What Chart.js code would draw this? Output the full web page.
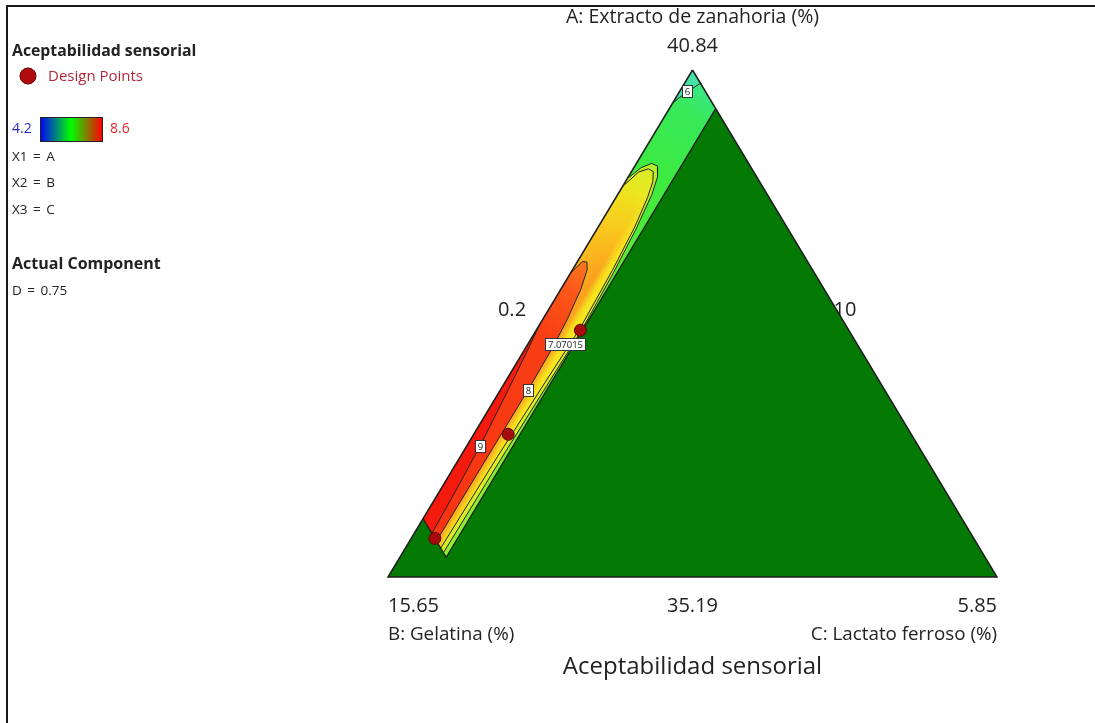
<!DOCTYPE html>
<html>
<head>
<meta charset="utf-8">
<script src="https://cdn.jsdelivr.net/npm/chart.js@4/dist/chart.umd.min.js"></script>
<style>
html,body{margin:0;padding:0;background:#fff;}
#wrap{position:relative;width:1095px;height:723px;}
canvas{display:block;}
</style>
</head>
<body>
<div id="wrap"><canvas id="c" width="1095" height="723"></canvas></div>
<script>
// ---------------- DATA (actual component %, D fixed = 0.75) ----------------
const componentNames = ['A: Extracto de zanahoria (%)', 'B: Gelatina (%)', 'C: Lactato ferroso (%)'];
const componentHigh = [40.84, 15.65, 5.85];   // value at each vertex
const componentLow  = [35.19, 10, 0.2];       // value on opposite edge
const responseTitle = 'Aceptabilidad sensorial';
const colorRange = [4.2, 8.6];
const fixedComponent = 'D = 0.75';
const codedNames = ['X1 = A', 'X2 = B', 'X3 = C'];

// feasible (constrained) region corners as [B, C]
const regionB = [10, 10, 15.0, 15.0];
const regionC = [0.2, 0.63, 0.63, 0.2];

// contour lines as [B, C] pairs
const contour6 = [[10.37,0.20],[10.27,0.234],[10.17,0.273],[10.08,0.313],[10.00,0.347]];
const contour7 = [[11.21,0.20],[11.02,0.268],[10.90,0.341],[10.86,0.409],[10.92,0.471],[11.07,0.516],[11.41,0.562],[11.86,0.596],[12.49,0.621],[13.11,0.607],[13.96,0.590],[15.0,0.579]];
const contour707 = [[11.30,0.20],[11.07,0.268],[10.96,0.341],[10.93,0.403],[10.99,0.454],[11.13,0.494],[11.41,0.539],[11.86,0.573],[12.49,0.596],[13.11,0.573],[13.96,0.545],[15.0,0.528]];
const contour8 = [[12.26,0.20],[12.09,0.245],[12.05,0.290],[12.09,0.336],[12.26,0.386],[12.54,0.426],[12.83,0.449],[13.31,0.457],[13.96,0.454],[15.0,0.449]];
const contour9 = [[12.83,0.20],[13.11,0.234],[13.50,0.273],[14.07,0.324],[14.52,0.347],[15.0,0.364]];

// contour labels: text, B, C
const labelText = ['6', '9', '8', '7.07015'];
const labelB = [10.17, 14.07, 13.31, 12.71];
const labelC = [0.268, 0.324, 0.457, 0.539];

// design points
const designB = [12.49, 13.74, 15.0];
const designC = [0.61, 0.52, 0.42];

// ---------------- helpers ----------------
const SPAN = componentHigh[1] - componentLow[1];
function toXY(B, C) {
  const b = (B - componentLow[1]) / SPAN;
  const c = (C - componentLow[2]) / SPAN;
  const a = 1 - b - c;
  return {x: c + a / 2, y: a};
}
const pairsToXY = arr => arr.map(([B, C]) => toXY(B, C));
const vertexA = [componentLow[1], componentLow[2]];
const vertexB = [componentHigh[1], componentLow[2]];
const vertexC = [componentLow[1], componentHigh[2]];
const regionPairs = regionB.map((b, i) => [b, regionC[i]]);
const bottomLeftOfRegion = [regionB[3], regionC[3]];

const FONT = "'Open Sans','Noto Sans',sans-serif";

function px(chart, B, C) {
  const p = toXY(B, C);
  return [chart.scales.x.getPixelForValue(p.x), chart.scales.y.getPixelForValue(p.y)];
}
function poly(ctx, chart, pts) {
  ctx.beginPath();
  pts.forEach(([B, C], i) => {
    const [X, Y] = px(chart, B, C);
    if (i) ctx.lineTo(X, Y); else ctx.moveTo(X, Y);
  });
  ctx.closePath();
}
// gradient along the band (by B)
function alongGrad(ctx, chart, stops) {
  const [x0, y0] = px(chart, regionB[0], regionC[0]);
  const [x1, y1] = px(chart, regionB[2], regionC[0]);
  const g = ctx.createLinearGradient(x0, y0, x1, y1);
  const span = regionB[2] - regionB[0];
  stops.forEach(([B, col]) => g.addColorStop(Math.max(0, Math.min(1, (B - regionB[0]) / span)), col));
  return g;
}
// gradient across the band (by C), perpendicular to the B-C edge
function acrossGrad(ctx, chart, stops) {
  const [x0, y0] = px(chart, 12.5, regionC[0]);
  const [x1, y1] = px(chart, 15.0, regionC[0]);
  const [qx, qy] = px(chart, 12.5, regionC[1]);
  let nx = -(y1 - y0), ny = (x1 - x0);
  const len = Math.hypot(nx, ny); nx /= len; ny /= len;
  const t = (qx - x0) * nx + (qy - y0) * ny;
  const g = ctx.createLinearGradient(x0, y0, x0 + nx * t, y0 + ny * t);
  const span = regionC[1] - regionC[0];
  stops.forEach(([C, col]) => g.addColorStop(Math.max(0, Math.min(1, (C - regionC[0]) / span)), col));
  return g;
}

const fillPlugin = {
  id: 'fills',
  beforeDatasetsDraw(chart) {
    const ctx = chart.ctx;
    ctx.save();
    poly(ctx, chart, [vertexA, vertexB, vertexC]);
    ctx.fillStyle = 'rgb(4,122,4)';
    ctx.fill();
    // feasible band
    poly(ctx, chart, regionPairs);
    ctx.fillStyle = alongGrad(ctx, chart, [[10,'rgb(60,230,150)'],[10.35,'rgb(55,233,90)'],[11.1,'rgb(62,235,62)'],[12.5,'rgb(110,237,50)'],[15,'rgb(145,238,50)']]);
    ctx.fill();
    // tip below 6
    poly(ctx, chart, [vertexA, ...contour6]);
    ctx.fillStyle = 'rgb(70,226,165)';
    ctx.fill();
    // >7
    poly(ctx, chart, [...contour7, bottomLeftOfRegion]);
    ctx.fillStyle = alongGrad(ctx, chart, [[10.9,'rgb(175,238,42)'],[11.6,'rgb(220,238,32)'],[12.5,'rgb(232,236,30)'],[15,'rgb(215,236,40)']]);
    ctx.fill();
    // >7.07
    poly(ctx, chart, [...contour707, bottomLeftOfRegion]);
    ctx.fillStyle = acrossGrad(ctx, chart, [[0.2,'rgb(250,180,30)'],[0.35,'rgb(250,168,30)'],[0.45,'rgb(250,160,30)'],[0.53,'rgb(246,226,30)'],[0.6,'rgb(240,236,35)']]);
    ctx.fill();
    ctx.fillStyle = alongGrad(ctx, chart, [[10.9,'rgba(205,238,40,1)'],[11.25,'rgba(232,236,32,0.95)'],[11.7,'rgba(248,226,30,0.55)'],[12.2,'rgba(250,210,30,0)'],[15,'rgba(250,210,30,0)']]);
    ctx.fill();
    // >8
    poly(ctx, chart, [...contour8, bottomLeftOfRegion]);
    ctx.fillStyle = alongGrad(ctx, chart, [[12.05,'rgb(250,125,30)'],[12.4,'rgb(250,88,25)'],[12.9,'rgb(248,62,20)'],[15,'rgb(248,52,18)']]);
    ctx.fill();
    // >9
    poly(ctx, chart, [...contour9, bottomLeftOfRegion]);
    ctx.fillStyle = 'rgb(244,26,14)';
    ctx.fill();
    ctx.restore();
  },
  afterDatasetDraw(chart, args) {
    if (args.index !== 1) return; // label layer: above contours, below design points
    const ctx = chart.ctx;
    ctx.save();
    ctx.font = '9.5px ' + FONT;
    ctx.textAlign = 'center';
    ctx.textBaseline = 'middle';
    labelText.forEach((t, i) => {
      const [X, Y] = px(chart, labelB[i], labelC[i]);
      const w = Math.round(ctx.measureText(t).width + 5), h = 12;
      const L = Math.round(X - w / 2), T = Math.round(Y - h / 2);
      ctx.fillStyle = '#fff';
      ctx.fillRect(L, T, w, h);
      ctx.strokeStyle = '#333';
      ctx.lineWidth = 1;
      ctx.strokeRect(L + 0.5, T + 0.5, w, h);
      ctx.fillStyle = '#222';
      ctx.fillText(t, L + w / 2 + 0.5, T + h / 2 + 1);
    });
    ctx.restore();
  },
  afterDraw(chart) {
    const ctx = chart.ctx;
    ctx.save();
    // frame
    ctx.strokeStyle = '#1a1a1a';
    ctx.lineWidth = 2;
    ctx.beginPath();
    ctx.moveTo(7, 723); ctx.lineTo(7, 6); ctx.lineTo(1095, 6);
    ctx.stroke();

    ctx.fillStyle = '#222';
    ctx.textBaseline = 'middle';
    const [ax] = px(chart, ...vertexA);
    const [bx] = px(chart, ...vertexB);
    const [cx] = px(chart, ...vertexC);
    ctx.textAlign = 'center';
    ctx.font = '19.5px ' + FONT;
    ctx.fillText(componentNames[0], ax, 17);
    ctx.font = '20px ' + FONT;
    ctx.fillText(String(componentHigh[0]), ax, 46);
    ctx.fillText(String(componentLow[2]), 512, 310);
    ctx.fillText(String(componentLow[1]), 845, 310);
    ctx.fillText(String(componentLow[0]), (bx + cx) / 2, 606);
    ctx.textAlign = 'left';
    ctx.fillText(String(componentHigh[1]), bx, 606);
    ctx.textAlign = 'right';
    ctx.fillText(String(componentHigh[2]), cx, 606);
    ctx.font = '18.8px ' + FONT;
    ctx.textAlign = 'left';
    ctx.fillText(componentNames[1], bx, 635);
    ctx.textAlign = 'right';
    ctx.fillText(componentNames[2], cx, 635);
    ctx.font = '24px ' + FONT;
    ctx.textAlign = 'center';
    ctx.fillText(responseTitle, (bx + cx) / 2, 667);

    // legend
    ctx.textAlign = 'left';
    ctx.font = 'bold 15.8px ' + FONT;
    ctx.fillText(responseTitle, 12, 51);
    ctx.beginPath();
    ctx.arc(28, 76, 8, 0, Math.PI * 2);
    ctx.fillStyle = 'rgb(176,12,12)';
    ctx.fill();
    ctx.strokeStyle = 'rgb(100,0,0)';
    ctx.lineWidth = 1;
    ctx.stroke();
    ctx.font = '15px ' + FONT;
    ctx.fillStyle = 'rgb(178,40,55)';
    ctx.fillText('Design Points', 48, 77);
    const g = ctx.createLinearGradient(40, 0, 102, 0);
    g.addColorStop(0, 'rgb(0,0,255)');
    g.addColorStop(0.5, 'rgb(0,255,0)');
    g.addColorStop(1, 'rgb(255,0,0)');
    ctx.fillStyle = g;
    ctx.fillRect(40, 117, 62, 24);
    ctx.strokeStyle = '#222';
    ctx.strokeRect(40.5, 117.5, 62, 24);
    ctx.font = '14px ' + FONT;
    ctx.fillStyle = 'rgb(40,40,200)';
    ctx.fillText(String(colorRange[0]), 12, 129);
    ctx.fillStyle = 'rgb(230,40,40)';
    ctx.fillText(String(colorRange[1]), 110, 129);
    ctx.fillStyle = '#222';
    ctx.font = '13.5px ' + FONT;
    if ('wordSpacing' in ctx) ctx.wordSpacing = '2px';
    codedNames.forEach((t, i) => ctx.fillText(t, 12, 157 + i * 26.5));
    ctx.fillText(fixedComponent, 12, 291);
    if ('wordSpacing' in ctx) ctx.wordSpacing = '0px';
    ctx.font = 'bold 16px ' + FONT;
    ctx.fillText('Actual Component', 12, 264);
    ctx.restore();
  }
};

const lineDs = (data, color, width) => ({
  type: 'scatter', data, showLine: true, borderColor: color, borderWidth: width,
  pointRadius: 0, fill: false, clip: false, tension: 0
});

new Chart(document.getElementById('c'), {
  type: 'scatter',
  data: {
    datasets: [
      { // 0 design points (drawn last)
        type: 'scatter',
        data: designB.map((B, i) => toXY(B, designC[i])),
        pointRadius: 6, pointBackgroundColor: 'rgb(165,12,12)', pointBorderColor: 'rgb(95,0,0)',
        pointBorderWidth: 1, showLine: false, clip: false
      },
      lineDs(pairsToXY(contour9.slice(0, 1)), 'rgba(0,0,0,0)', 0), // 1 label layer anchor
      lineDs(pairsToXY(contour9), '#222', 1),   // 2
      lineDs(pairsToXY(contour8), '#222', 1),   // 3
      lineDs(pairsToXY(contour707), '#222', 1), // 4
      lineDs(pairsToXY(contour7), '#222', 1),   // 5
      lineDs(pairsToXY(contour6), '#222', 1),   // 6
      lineDs(pairsToXY([regionPairs[1], regionPairs[2], regionPairs[3]]), '#1e1e1e', 1.3), // 7 region boundary
      lineDs(pairsToXY([vertexA, vertexB, vertexC, vertexA]), '#1e1e1e', 1.5)            // 8 simplex
    ]
  },
  options: {
    responsive: false,
    animation: false,
    layout: {padding: {left: 388, right: 98, top: 70, bottom: 146}},
    scales: {
      x: {type: 'linear', min: 0, max: 1, display: false},
      y: {type: 'linear', min: 0, max: 1, display: false}
    },
    plugins: {legend: {display: false}, tooltip: {enabled: false}, title: {display: false}}
  },
  plugins: [fillPlugin]
});
</script>
</body>
</html>
